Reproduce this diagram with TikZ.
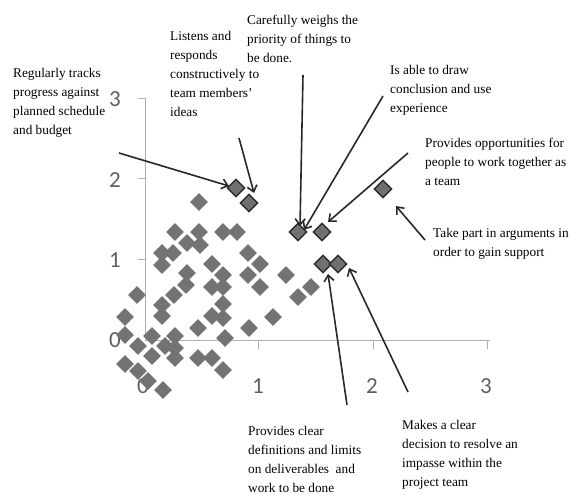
\documentclass[tikz,border=0pt]{standalone}
\usepackage{fontspec}
\setmainfont{Liberation Serif}
\newfontfamily\axfont{Carlito}
\usetikzlibrary{shapes.geometric,arrows.meta}
\definecolor{ptgray}{RGB}{115,115,115}
\definecolor{hlfill}{RGB}{112,112,112}
\definecolor{hledge}{RGB}{45,45,45}
\definecolor{axgray}{RGB}{175,175,175}
\definecolor{axtext}{RGB}{95,95,95}
\definecolor{arrowc}{RGB}{40,40,40}
\tikzset{
  pt/.style={diamond,fill=ptgray,draw=none,minimum size=18pt,inner sep=0pt},
  hl/.style={diamond,fill=hlfill,draw=hledge,line width=1.4pt,minimum size=18pt,inner sep=0pt},
  lbl/.style={anchor=base west,align=left,inner sep=0pt,font=\fontsize{13.3}{19}\selectfont},
  axlbl/.style={font=\axfont\fontsize{23}{23}\selectfont,text=axtext,inner sep=0pt},
  axline/.style={draw=axgray,line width=1pt},
  callout/.style={draw=arrowc,line width=1.6pt,-{Straight Barb[length=6pt,width=10pt,line width=1.6pt]}}
}
\begin{document}
\begin{tikzpicture}[x=1pt,y=-1pt]
\useasboundingbox (0,0) rectangle (573,495);
% axes
\coordinate (o) at (145,340);
\coordinate (ytop) at (145,98);
\coordinate (xend) at (490,340);
\draw[axline] (ytop) -- (o) -- (xend);
\foreach \yy in {98,178,259} \draw[axline] (138,\yy) -- (145,\yy);
\foreach \xx in {258,373,487} \draw[axline] (\xx,340) -- (\xx,349);
\node[axlbl] (y3) at (115,99) {3};
\node[axlbl] (y2) at (115,180) {2};
\node[axlbl] (y1) at (115,260) {1};
\node[axlbl] (y0) at (115,340) {0};
\node[axlbl] (x0) at (143,386) {0};
\node[axlbl] (x1) at (258,386) {1};
\node[axlbl] (x2) at (372,386) {2};
\node[axlbl] (x3) at (486,386) {3};
% gray points
\foreach \px/\py [count=\i] in {
199/202,
175/232, 199/232, 223/232, 237/232,
187/243, 200/245,
162/253, 173/253, 248/253,
162/265, 212/264, 260/264,
187/273, 223/275, 248/275, 286/275,
186/285, 212/287, 223/287, 260/287, 311/287,
137/295, 174/295, 298/297,
162/305, 223/304,
125/317, 162/316, 212/316, 223/318, 273/317,
198/328, 249/328,
125/335, 152/336, 175/336, 225/338,
138/346, 165/346, 175/348,
152/356, 175/358, 198/358, 212/358,
125/364, 138/371, 223/370,
148/381, 163/390}
  \node[pt] (p\i) at (\px,\py) {};
% highlighted points
\node[hl] (h1) at (236,188) {};
\node[hl] (h2) at (249,203) {};
\node[hl] (h3) at (298,232) {};
\node[hl] (h4) at (322,232) {};
\node[hl] (h5) at (323,264) {};
\node[hl] (h6) at (338,264) {};
\node[hl] (h7) at (383,189) {};
% labels (anchored at the baseline of the last line)
\node[lbl] (l1) at (13,134) {Regularly tracks\\progress against\\planned schedule\\and budget};
\node[lbl] (l2) at (170,116) {Listens and\\responds\\constructively to\\team members’\\ideas};
\node[lbl] (l3) at (247,63) {Carefully weighs the\\priority of things to\\be done.};
\node[lbl] (l4) at (390,112) {Is able to draw\\conclusion and use\\experience};
\node[lbl] (l5) at (425,185) {Provides opportunities for\\people to work together as\\a team};
\node[lbl] (l6) at (433,256) {Take part in arguments in\\order to gain support};
\node[lbl] (l7) at (248,492) {Provides clear\\definitions and limits\\on deliverables~ and\\work to be done};
\node[lbl] (l8) at (402,486) {Makes a clear\\decision to resolve an\\impasse within the\\project team};
% callout ends
\coordinate (s1) at (119,153); \coordinate (t1) at (229,186);
\coordinate (s2) at (239,138); \coordinate (t2) at (254,193);
\coordinate (s3) at (303,75);  \coordinate (t3) at (300,226);
\coordinate (s4) at (383,96);  \coordinate (t4) at (304,230);
\coordinate (s5) at (408,153); \coordinate (t5) at (328,222);
\coordinate (s6) at (425,240); \coordinate (t6) at (396,206);
\coordinate (s7) at (347,405); \coordinate (t7) at (328,274);
\coordinate (s8) at (408,392); \coordinate (t8) at (349,268);
\foreach \k in {1,...,8} \draw[callout] (s\k) -- (t\k);
\end{tikzpicture}
\end{document}
